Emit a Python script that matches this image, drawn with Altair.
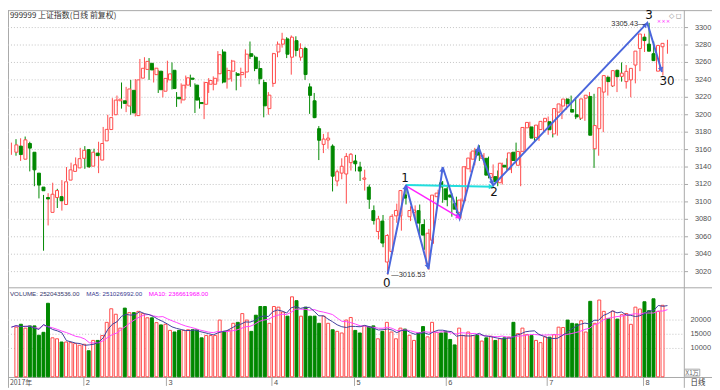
import math
import altair as alt
import pandas as pd

# ---------------- data ----------------
dates = [
    "2017-01-05", "2017-01-06", "2017-01-09", "2017-01-10", "2017-01-11", "2017-01-12", "2017-01-13", "2017-01-16",
    "2017-01-17", "2017-01-18", "2017-01-19", "2017-01-20", "2017-01-23", "2017-01-24", "2017-01-25", "2017-01-26",
    "2017-02-03", "2017-02-06", "2017-02-07", "2017-02-08", "2017-02-09", "2017-02-10", "2017-02-13", "2017-02-14",
    "2017-02-15", "2017-02-16", "2017-02-17", "2017-02-20", "2017-02-21", "2017-02-22", "2017-02-23", "2017-02-24",
    "2017-02-27", "2017-02-28",
    "2017-03-01", "2017-03-02", "2017-03-03", "2017-03-06", "2017-03-07", "2017-03-08", "2017-03-09", "2017-03-10",
    "2017-03-13", "2017-03-14", "2017-03-15", "2017-03-16", "2017-03-17", "2017-03-20", "2017-03-21", "2017-03-22",
    "2017-03-23", "2017-03-24", "2017-03-27", "2017-03-28", "2017-03-29", "2017-03-30", "2017-03-31",
    "2017-04-05", "2017-04-06", "2017-04-07", "2017-04-10", "2017-04-11", "2017-04-12", "2017-04-13", "2017-04-14",
    "2017-04-17", "2017-04-18", "2017-04-19", "2017-04-20", "2017-04-21", "2017-04-24", "2017-04-25", "2017-04-26",
    "2017-04-27", "2017-04-28",
    "2017-05-02", "2017-05-03", "2017-05-04", "2017-05-05", "2017-05-08", "2017-05-09", "2017-05-10", "2017-05-11",
    "2017-05-12", "2017-05-15", "2017-05-16", "2017-05-17", "2017-05-18", "2017-05-19", "2017-05-22", "2017-05-23",
    "2017-05-24", "2017-05-25", "2017-05-26", "2017-05-31",
    "2017-06-01", "2017-06-02", "2017-06-05", "2017-06-06", "2017-06-07", "2017-06-08", "2017-06-09", "2017-06-12",
    "2017-06-13", "2017-06-14", "2017-06-15", "2017-06-16", "2017-06-19", "2017-06-20", "2017-06-21", "2017-06-22",
    "2017-06-23", "2017-06-26", "2017-06-27", "2017-06-28", "2017-06-29", "2017-06-30",
    "2017-07-03", "2017-07-04", "2017-07-05", "2017-07-06", "2017-07-07", "2017-07-10", "2017-07-11", "2017-07-12",
    "2017-07-13", "2017-07-14", "2017-07-17", "2017-07-18", "2017-07-19", "2017-07-20", "2017-07-21", "2017-07-24",
    "2017-07-25", "2017-07-26", "2017-07-27", "2017-07-28", "2017-07-31",
    "2017-08-01", "2017-08-02", "2017-08-03", "2017-08-04", "2017-08-07", "2017-08-08",
]

opens = [
    3157, 3164, 3149, 3167, 3157, 3133, 3117, 3105, 3088, 3105, 3106, 3097, 3125, 3135, 3139, 3150,
    3160, 3141, 3156, 3148, 3170, 3183, 3200, 3216, 3216, 3210, 3228, 3199, 3242, 3252, 3259, 3246, 3250, 3227,
    3240, 3251, 3220, 3217, 3234, 3242, 3234, 3214, 3212, 3235, 3235, 3247, 3272, 3241, 3250, 3247, 3246, 3249,
    3270, 3266, 3253, 3237, 3207,
    3236, 3272, 3281, 3287, 3266, 3285, 3266, 3276, 3232, 3216, 3184, 3166, 3171, 3164, 3124, 3133, 3132, 3145,
    3147, 3140, 3126, 3117, 3090, 3066, 3078, 3031, 3043, 3084, 3084, 3108, 3083, 3088, 3090, 3074, 3029, 3056,
    3106, 3122,
    3115, 3108, 3098, 3088, 3101, 3138, 3149, 3160, 3150, 3150, 3128, 3129, 3122, 3142, 3137, 3157, 3142, 3158,
    3185, 3186, 3174, 3183,
    3192, 3192, 3178, 3203, 3210, 3218, 3206, 3200, 3196, 3219, 3221, 3161, 3184, 3226, 3243, 3233, 3251, 3244,
    3238, 3240, 3257,
    3276, 3289, 3281, 3270, 3250, 3278,
]
highs = [
    3168, 3172, 3173, 3175, 3169, 3145, 3131, 3108, 3110, 3122, 3115, 3125, 3140, 3145, 3151, 3162,
    3164, 3160, 3161, 3169, 3186, 3200, 3219, 3222, 3237, 3232, 3240, 3241, 3264, 3266, 3265, 3255, 3251, 3250,
    3262, 3260, 3226, 3236, 3245, 3246, 3236, 3220, 3238, 3242, 3244, 3273, 3275, 3254, 3263, 3249, 3254, 3275,
    3284, 3268, 3262, 3240, 3226,
    3271, 3284, 3294, 3289, 3291, 3290, 3282, 3278, 3236, 3225, 3187, 3178, 3180, 3166, 3137, 3150, 3156, 3156,
    3154, 3146, 3137, 3120, 3096, 3084, 3085, 3063, 3086, 3098, 3113, 3117, 3095, 3096, 3097, 3080, 3069, 3108,
    3114, 3124,
    3118, 3110, 3106, 3104, 3141, 3157, 3162, 3165, 3156, 3152, 3143, 3136, 3145, 3150, 3157, 3168, 3158, 3186,
    3192, 3188, 3190, 3193,
    3198, 3196, 3208, 3215, 3219, 3222, 3220, 3214, 3219, 3226, 3224, 3188, 3231, 3245, 3248, 3252, 3260, 3257,
    3252, 3257, 3276,
    3293, 3305.43, 3284, 3273, 3280, 3286,
]
lows = [
    3154, 3153, 3147, 3157, 3135, 3118, 3104, 3044, 3073, 3100, 3093, 3090, 3124, 3130, 3136, 3149,
    3138, 3139, 3143, 3133, 3166, 3180, 3198, 3210, 3207, 3203, 3200, 3198, 3240, 3248, 3240, 3237, 3225, 3220,
    3237, 3229, 3209, 3213, 3230, 3232, 3202, 3207, 3195, 3225, 3228, 3238, 3236, 3230, 3238, 3228, 3232, 3242,
    3264, 3250, 3235, 3197, 3200,
    3232, 3266, 3277, 3265, 3246, 3267, 3262, 3240, 3201, 3196, 3148, 3156, 3161, 3112, 3118, 3126, 3098, 3136,
    3135, 3124, 3113, 3092, 3074, 3057, 3048, 3016.53, 3040, 3076, 3067, 3097, 3078, 3080, 3063, 3045, 3022, 3052,
    3100, 3099,
    3095, 3083, 3087, 3081, 3101, 3134, 3142, 3147, 3142, 3127, 3125, 3118, 3120, 3136, 3133, 3144, 3118, 3157,
    3176, 3170, 3170, 3181,
    3177, 3174, 3176, 3195, 3206, 3205, 3195, 3194, 3193, 3212, 3139, 3153, 3180, 3222, 3232, 3226, 3238, 3230,
    3220, 3236, 3250,
    3272, 3278, 3262, 3253, 3245, 3270,
]
closes = [
    3165.4, 3154.3, 3171.2, 3161.7, 3136.8, 3119.3, 3112.8, 3103.4, 3108.8, 3113.0, 3101.3, 3123.1, 3136.8, 3142.6,
    3149.6, 3159.2,
    3140.2, 3157.0, 3153.1, 3167.0, 3183.2, 3196.7, 3216.8, 3217.9, 3213.0, 3229.6, 3202.1, 3240.0, 3253.3, 3261.2,
    3251.4, 3253.4, 3228.7, 3241.7,
    3246.9, 3230.0, 3218.3, 3233.9, 3242.4, 3240.7, 3216.8, 3212.8, 3237.0, 3239.3, 3241.8, 3268.9, 3237.5, 3250.8,
    3261.6, 3245.2, 3248.6, 3269.5, 3267.0, 3253.0, 3241.3, 3210.2, 3222.5,
    3270.1, 3281.0, 3286.6, 3269.4, 3289.0, 3273.8, 3276.0, 3246.1, 3222.2, 3196.7, 3170.7, 3172.1, 3173.2, 3129.5,
    3134.6, 3140.9, 3152.2, 3154.7,
    3143.7, 3135.4, 3127.4, 3103.0, 3078.6, 3080.5, 3052.8, 3061.5, 3083.5, 3090.2, 3113.0, 3104.4, 3090.1, 3090.6,
    3075.7, 3061.9, 3064.1, 3107.8, 3110.1, 3117.2,
    3102.6, 3105.5, 3091.7, 3102.1, 3140.3, 3150.3, 3158.4, 3153.7, 3153.4, 3130.7, 3132.5, 3123.2, 3144.4, 3140.0,
    3156.2, 3147.5, 3157.9, 3185.4, 3191.2, 3173.2, 3188.1, 3192.4,
    3195.9, 3182.8, 3207.1, 3212.4, 3218.0, 3212.6, 3203.0, 3197.5, 3218.2, 3222.4, 3176.5, 3187.6, 3231.0, 3244.9,
    3238.0, 3250.6, 3243.7, 3247.7, 3249.8, 3253.2, 3273.0,
    3292.6, 3285.1, 3272.9, 3262.1, 3279.5, 3281.9,
]
# volume, in units of 10,000 (X1万)
volumes = [
    17510, 18520, 17160, 17950, 17950, 14650, 15680, 25920, 13740, 13400, 12260, 12260, 12040, 11700, 11130, 11470,
    9190, 12830, 12830, 14540, 19200, 23980, 22050, 17160, 24210, 22620, 22620, 23070, 22280, 20800, 20800, 19090,
    18290, 18520,
    16360, 15790, 16360, 16360, 16590, 16590, 16590, 13740, 14540, 14540, 14540, 20000, 16020, 16360, 18860, 19200,
    22280, 20000, 16020, 21710, 24780, 24780, 18860,
    24780, 24550, 22840, 21370, 28190, 26830, 21370, 24550, 21370, 21370, 18860, 21370, 18860, 16590, 16020, 15450,
    20000, 20910,
    16360, 15450, 17950, 17720, 17950, 13400, 16020, 19200, 15790, 13400, 17160, 16820, 14650, 12830, 15450, 17720,
    14090, 19200, 15680, 15450,
    16020, 13170, 11240, 17160, 14540, 15790, 14540, 14650, 12600, 13740, 14310, 12830, 13400, 13740, 13970, 19200,
    15220, 17160, 14880, 14540, 12830, 12040,
    14090, 13970, 14880, 17500, 17380, 20000, 18860, 18640, 19770, 15790, 26600, 18860, 27060, 23070, 20570, 23180,
    20340, 21900, 22300, 18500, 24550,
    23900, 26450, 23300, 27500, 23060, 25204,
]

price_ticks = [3020, 3040, 3060, 3080, 3100, 3120, 3140, 3160, 3180, 3200, 3220, 3240, 3260, 3280, 3300]
vol_ticks = [10000, 15000, 20000]
month_labels = ["2", "3", "4", "5", "6", "7", "8"]
month_first = ["2017-02-03", "2017-03-01", "2017-04-05", "2017-05-02", "2017-06-01", "2017-07-03", "2017-08-01"]

# hand-drawn wave annotation (trading-day position, price)
zig_idx = [82.0, 86.0, 90.9, 94.0, 97.7, 101.8, 105.0, 138.6, 141.8]
zig_price = [3017.0, 3119.5, 3023.0, 3140.0, 3081.0, 3163.0, 3119.0, 3305.4, 3249.0]
cyan_idx = [86.0, 105.1]
cyan_price = [3119.5, 3117.5]
mag_idx = [86.0, 97.9]
mag_price = [3118.5, 3081.0]
ann_text = ["0", "1", "2", "3", "30"]
ann_idx = [81.8, 85.8, 105.2, 139.0, 142.9]
ann_price = [3007.0, 3127.0, 3111.0, 3314.0, 3239.0]
note_text = ["—3016.53", "3305.43—"]
note_idx = [82.8, 138.2]
note_price = [3015.6, 3304.0]
note_align = ["left", "right"]

title_text = "999999 上证指数(日线 前复权)"
vol_header = ["VOLUME: 252043536.00", "MA5: 251026992.00", "MA10: 236661968.00"]

# ---------------- layout ----------------
W, H = 712, 382
SX, SY = W / 720.0, H / 390.0


def px(x):
    return round(x * SX, 2)


def py(y):
    return round(y * SY, 2)


RED = "#ff4a4a"
GREEN = "#008800"
BLUE = "#4a66dc"
GRID = "#c2c2c2"
FRAME = "#a8a8a8"
LABEL = "#505050"
NUMF = "Liberation Sans"
CJK = "Noto Sans CJK SC"

n = len(dates)
df = pd.DataFrame({"idx": list(range(n)), "date": dates, "open": opens, "high": highs,
                   "low": lows, "close": closes, "vol": volumes})
df["dir"] = ["up" if c >= o else "down" for o, c in zip(opens, closes)]

xs = alt.Scale(domain=[0, n - 1], range=[px(3.5), px(3.5 + 4.692 * (n - 1))], nice=False, zero=False)
ps = alt.Scale(domain=[3020, 3300], range=[py(270), py(18)], nice=False, zero=False)
vs = alt.Scale(domain=[0, 20000], range=[py(378.6), py(320)], nice=False, zero=False)
cs = alt.Scale(domain=["up", "down"], range=[RED, GREEN])

one = pd.DataFrame({"k": [0]})


def xq(field="idx"):
    return alt.X(f"{field}:Q", scale=xs, axis=None)


def hline(y, x1=0, x2=720, color=FRAME):
    return alt.Chart(one).mark_rule(color=color, strokeWidth=1).encode(
        x=alt.value(px(x1)), x2=alt.value(px(x2)), y=alt.value(py(y)))


def vline(x, y1=0, y2=390, color=FRAME):
    return alt.Chart(one).mark_rule(color=color, strokeWidth=1).encode(
        x=alt.value(px(x)), y=alt.value(py(y1)), y2=alt.value(py(y2)))


def label(text, x, y, size=7.5, color=LABEL, font=NUMF, align="left", weight="normal"):
    return alt.Chart(one).mark_text(text=text, align=align, baseline="middle", fontSize=size,
                                    color=color, font=font, fontWeight=weight).encode(
        x=alt.value(px(x)), y=alt.value(py(y)))


layers = []

# frame
layers += [hline(0.5), vline(0.5), hline(286.7), hline(379.3), vline(691.7)]

# price grid + labels
pt = pd.DataFrame({"p": price_ticks, "t": [str(v) for v in price_ticks]})
layers.append(alt.Chart(pt).mark_rule(color=GRID, strokeDash=[1, 2], strokeWidth=1).encode(
    y=alt.Y("p:Q", scale=ps, axis=None), x=alt.value(0), x2=alt.value(px(691))))
layers.append(alt.Chart(pt).mark_rule(color=FRAME, strokeWidth=1).encode(
    y=alt.Y("p:Q", scale=ps, axis=None), x=alt.value(px(691.7)), x2=alt.value(px(695.5))))
layers.append(alt.Chart(pt).mark_text(align="left", baseline="middle", fontSize=7.5, font=NUMF,
                                      color=LABEL).encode(
    y=alt.Y("p:Q", scale=ps, axis=None), x=alt.value(px(702.5)), text="t:N"))

# volume grid + labels
vt = pd.DataFrame({"v": vol_ticks, "t": [str(v) for v in vol_ticks]})
layers.append(alt.Chart(vt).mark_rule(color=GRID, strokeDash=[1, 2], strokeWidth=1).encode(
    y=alt.Y("v:Q", scale=vs, axis=None), x=alt.value(0), x2=alt.value(px(691))))
layers.append(alt.Chart(vt).mark_text(align="left", baseline="middle", fontSize=7.5, font=NUMF,
                                      color=LABEL).encode(
    y=alt.Y("v:Q", scale=vs, axis=None), x=alt.value(px(698)), text="t:N"))

# candles: wicks then bodies
layers.append(alt.Chart(df).mark_rule(strokeWidth=1).encode(
    x=xq(), y=alt.Y("low:Q", scale=ps, axis=None), y2="high:Q",
    color=alt.Color("dir:N", scale=cs, legend=None)))
layers.append(alt.Chart(df).transform_filter("datum.dir == 'up'").mark_bar(
    size=3, fill="white", stroke=RED, strokeWidth=1).encode(
    x=xq(), y=alt.Y("open:Q", scale=ps, axis=None), y2="close:Q"))
layers.append(alt.Chart(df).transform_filter("datum.dir == 'down'").mark_bar(
    size=3, fill=GREEN, stroke=GREEN, strokeWidth=1).encode(
    x=xq(), y=alt.Y("open:Q", scale=ps, axis=None), y2="close:Q"))

# volume bars
layers.append(alt.Chart(df).transform_filter("datum.dir == 'up'").mark_bar(
    size=3, fill="white", stroke=RED, strokeWidth=1).encode(
    x=xq(), y=alt.Y("vol:Q", scale=vs, axis=None)))
layers.append(alt.Chart(df).transform_filter("datum.dir == 'down'").mark_bar(
    size=3, fill=GREEN, stroke=GREEN, strokeWidth=1).encode(
    x=xq(), y=alt.Y("vol:Q", scale=vs, axis=None)))

# volume moving averages
ma = alt.Chart(df).transform_window(
    ma5="mean(vol)", frame=[-4, 0], sort=[{"field": "idx"}]).transform_window(
    ma10="mean(vol)", frame=[-9, 0], sort=[{"field": "idx"}])
layers.append(ma.mark_line(color="#ff44ff", strokeWidth=1).encode(
    x=xq(), y=alt.Y("ma10:Q", scale=vs, axis=None)))
layers.append(ma.mark_line(color="#40409c", strokeWidth=1).encode(
    x=xq(), y=alt.Y("ma5:Q", scale=vs, axis=None)))

# annotations
zig = pd.DataFrame({"i": zig_idx, "p": zig_price, "o": list(range(len(zig_idx)))})
cy = pd.DataFrame({"i": cyan_idx, "p": cyan_price, "o": [0, 1]})
mg = pd.DataFrame({"i": mag_idx, "p": mag_price, "o": [0, 1]})

ppi = 4.692 * SX
ppp = 0.9 * SY


def head(i0, p0, i1, p1, back=2.5):
    dx = (i1 - i0) * ppi
    dy = -(p1 - p0) * ppp
    L = math.hypot(dx, dy)
    ang = math.degrees(math.atan2(dx, -dy)) % 360
    ci = i1 - (dx / L) * back / ppi
    cp = p1 + (dy / L) * back / ppp
    return ci, cp, ang


heads = []
for k in range(1, len(zig_idx)):
    heads.append(head(zig_idx[k - 1], zig_price[k - 1], zig_idx[k], zig_price[k]) + (BLUE,))
heads.append(head(cyan_idx[0], cyan_price[0], cyan_idx[1], cyan_price[1]) + ("#22dede",))
heads.append(head(mag_idx[0], mag_price[0], mag_idx[1], mag_price[1]) + ("#ff22ff",))
hd = pd.DataFrame(heads, columns=["i", "p", "a", "c"])

layers.append(alt.Chart(cy).mark_line(color="#22dede", strokeWidth=2).encode(
    x=xq("i"), y=alt.Y("p:Q", scale=ps, axis=None), order="o:Q"))
layers.append(alt.Chart(mg).mark_line(color="#ff22ff", strokeWidth=1.5).encode(
    x=xq("i"), y=alt.Y("p:Q", scale=ps, axis=None), order="o:Q"))
layers.append(alt.Chart(zig).mark_line(color=BLUE, strokeWidth=2).encode(
    x=xq("i"), y=alt.Y("p:Q", scale=ps, axis=None), order="o:Q"))
layers.append(alt.Chart(hd).mark_point(shape="triangle-up", filled=True, size=30, opacity=1).encode(
    x=xq("i"), y=alt.Y("p:Q", scale=ps, axis=None), angle=alt.Angle("a:Q", scale=None),
    color=alt.Color("c:N", scale=None)))

an = pd.DataFrame({"t": ann_text, "i": ann_idx, "p": ann_price})
layers.append(alt.Chart(an).mark_text(fontSize=12, font="DejaVu Sans", color="#111111",
                                      baseline="middle", align="center").encode(
    x=xq("i"), y=alt.Y("p:Q", scale=ps, axis=None), text="t:N"))
for t, i, p, a in zip(note_text, note_idx, note_price, note_align):
    nd = pd.DataFrame({"t": [t], "i": [i], "p": [p]})
    layers.append(alt.Chart(nd).mark_text(fontSize=7.5, font=NUMF, color="#333333",
                                          baseline="middle", align=a).encode(
        x=xq("i"), y=alt.Y("p:Q", scale=ps, axis=None), text="t:N"))

# month axis
mi = [dates.index(d) for d in month_first]
md = pd.DataFrame({"i": mi, "t": month_labels})
layers.append(alt.Chart(md).mark_rule(color=FRAME, strokeWidth=1, xOffset=-1).encode(
    x=xq("i"), y=alt.value(py(379.3)), y2=alt.value(py(388))))
layers.append(alt.Chart(md).mark_text(align="left", baseline="middle", fontSize=7.5, font=NUMF,
                                      color=LABEL, dx=1).encode(
    x=xq("i"), y=alt.value(py(384.5)), text="t:N"))
layers.append(label("2017年", 2, 384.5, size=7, font=CJK))
layers.append(label("日线", 698, 385, size=7.5, font=CJK, color="#333333"))

# texts
layers.append(label(title_text, 2, 6.5, size=8, font=CJK, color="#333333"))
layers.append(label(vol_header[0], 2, 293, size=6.3, color="#34346a"))
layers.append(label(vol_header[1], 80, 293, size=6.3, color="#3a3a90"))
layers.append(label(vol_header[2], 144, 293, size=6.3, color="#ff00ff"))
layers.append(alt.Chart(one).mark_rect(fill="white", stroke=FRAME, strokeWidth=1).encode(
    x=alt.value(px(692)), x2=alt.value(px(707.5)), y=alt.value(py(370.7)), y2=alt.value(py(377.8))))
layers.append(label("X1万", 693, 374.3, size=6.3, font=CJK, color="#666666"))
layers.append(label("◇", 676, 6, size=7, font="DejaVu Sans", color="#888888"))
layers.append(label("◻", 683, 6, size=7, font="DejaVu Sans", color="#888888"))
layers.append(label("×××", 663.5, 11, size=5.5, font="DejaVu Sans", color="#ff33ff"))

chart = alt.layer(*layers).resolve_scale(x="independent", y="independent", color="independent").properties(
    width=W, height=H, padding=0, autosize=alt.AutoSizeParams(type="none"),
    background="white").configure_view(stroke=None)

chart.save("out.html", embed_options={"renderer": "svg", "actions": False})
